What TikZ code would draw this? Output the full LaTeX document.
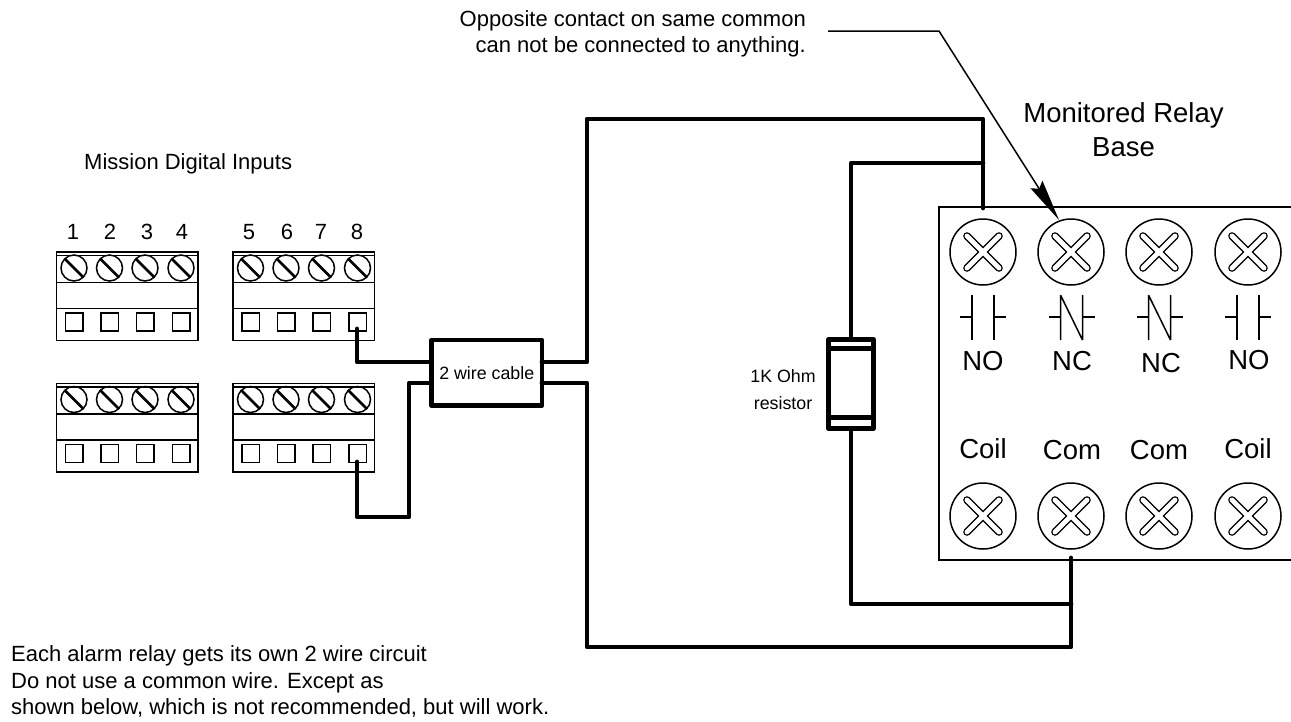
\documentclass[tikz,border=0pt]{standalone}
\usepackage{fontspec}
\usetikzlibrary{arrows.meta}
\setmainfont{Liberation Sans}
\tikzset{
  thinline/.style={line width=1.5pt},
  wire/.style={line width=4.8pt,line join=round,line cap=round},
  label/.style={font=\fontsize{27.5}{34}\selectfont,inner sep=0pt},
  smalllabel/.style={font=\fontsize{22}{26.5}\selectfont,inner sep=0pt},
  tinylabel/.style={font=\fontsize{17.8}{27}\selectfont,inner sep=0pt},
}
% one screw of a terminal block
\newcommand{\blockscrew}[2]{
  \draw[thinline] (#1,#2) circle (13);
  \draw[line width=2.6pt] (#1-9.5,#2-9.5) -- (#1+9.5,#2+9.5);
}
% one terminal block, #1 is the left edge, #2 the top edge
\newcommand{\termblock}[2]{
  \draw[thinline] (#1,#2) rectangle ++(141.5,88.5);
  \draw[thinline] (#1,#2+3.5) -- ++(141.5,0) (#1,#2+30.5) -- ++(141.5,0) (#1,#2+56.5) -- ++(141.5,0);
  \foreach \i in {17.5,53,88.5,124.5} {
    \blockscrew{#1+\i}{#2+16}
    \draw[thinline] (#1+\i-8.5,#2+61) rectangle ++(17.5,18);
  }
}
% one large relay screw
\newcommand{\relayscrew}[2]{
  \draw[thinline] (#1,#2) circle (33);
  \draw[line width=7.6pt,line cap=round] (#1-16,#2-16) -- (#1+16,#2+16) (#1-16,#2+16) -- (#1+16,#2-16);
  \draw[line width=4.8pt,line cap=round,white] (#1-16,#2-16) -- (#1+16,#2+16) (#1-16,#2+16) -- (#1+16,#2-16);
}
\begin{document}
\begin{tikzpicture}[x=1pt,y=-1pt]
  \useasboundingbox (0,0) rectangle (1291,721);

  \termblock{56.5}{252}
  \termblock{233}{252}
  \termblock{56.5}{383.5}
  \termblock{233}{383.5}

  \foreach \n/\x in {1/73,2/110,3/147,4/182,5/249,6/287,7/321,8/357}
    \node[smalllabel] (num\n) at (\x,232) {\n};
  \node[smalllabel,anchor=west] (inputs) at (84,164) {Mission Digital Inputs};

  % relay base
  \draw[thinline] (1291,207) -- (939,207) -- (939,560) -- (1291,560);
  \foreach \x in {983,1071,1159,1248} {
    \relayscrew{\x}{252}
    \relayscrew{\x}{516}
  }
  \foreach \x in {983,1248} {
    \draw[thinline] (\x-11,295) -- ++(0,45) (\x+11,295) -- ++(0,45);
    \draw[thinline] (\x-23,317) -- ++(12,0) (\x+11,317) -- ++(12,0);
  }
  \foreach \x in {1071.5,1159.5} {
    \draw[thinline] (\x-11,295) -- ++(0,45) (\x+11,295) -- ++(0,45) (\x-11,295) -- (\x+11,340);
    \draw[thinline] (\x-23,317) -- ++(12,0) (\x+11,317) -- ++(12,0);
  }
  \node[label] (no1) at (983,361) {NO};
  \node[label] (nc1) at (1072,361) {NC};
  \node[label] (nc2) at (1161,363) {NC};
  \node[label] (no2) at (1249,360) {NO};
  \node[label] (coil1) at (983,449) {Coil};
  \node[label] (com1) at (1072,450) {Com};
  \node[label] (com2) at (1159,450) {Com};
  \node[label] (coil2) at (1248,449) {Coil};
  \node[label,align=center] (base) at (1123.5,130) {Monitored Relay\\Base};

  % cable
  \node[draw,wire,outer sep=0pt,minimum width=110.5pt,minimum height=65.5pt,inner sep=0pt,tinylabel] (cable) at (486.75,372.75) {2 wire cable};
  \coordinate (in8) at (357,329);
  \coordinate (in8b) at (357,462);
  \coordinate (top) at (983,208);
  \coordinate (bot) at (1071,558);
  \coordinate (lefta) at (cable.west |- 0,362);
  \coordinate (leftb) at (cable.west |- 0,383);
  \coordinate (righta) at (cable.east |- 0,362);
  \coordinate (rightb) at (cable.east |- 0,383);
  \draw[wire] (in8) -- (357,362) -- (lefta);
  \draw[wire] (in8b) -- (357,517) -- (409,517) -- (409,383) -- (leftb);
  \draw[wire] (righta) -- (587,362) -- (587,119) -- (983,119) -- (top);
  \draw[wire] (rightb) -- (587,383) -- (587,647) -- (1071,647) -- (bot);

  % resistor
  \node[draw,wire,outer sep=0pt,minimum width=44.5pt,minimum height=89pt,inner sep=0pt] (res) at (851,384) {};
  \draw[wire] (res.west |- 0,348.7) -- (res.east |- 0,348.7);
  \draw[wire] (res.west |- 0,417.7) -- (res.east |- 0,417.7);
  \draw[wire] (983,163) -- (851,163) -- (res.north);
  \draw[wire] (res.south) -- (851,604) -- (1071,604);
  \node[tinylabel,align=center] (reslabel) at (783,389.5) {1K Ohm\\resistor};

  % note
  \node[smalllabel,align=right,anchor=north east] (oppnote) at (806,10) {Opposite contact on same common\\can not be connected to anything.};
  \coordinate (leaderstart) at (828,31);
  \coordinate (leaderbend) at (939,31);
  \coordinate (leadertip) at (1059,220);
  \draw[thinline,-{Stealth[length=42pt,width=14pt,inset=5pt]}] (leaderstart) -- (leaderbend) -- (leadertip);
  \node[smalllabel,align=left,anchor=south west] (wirenote) at (11,718) {Each alarm relay gets its own 2 wire circuit\\Do not use a common wire.  Except as\\shown below, which is not recommended, but will work.};
\end{tikzpicture}
\end{document}
